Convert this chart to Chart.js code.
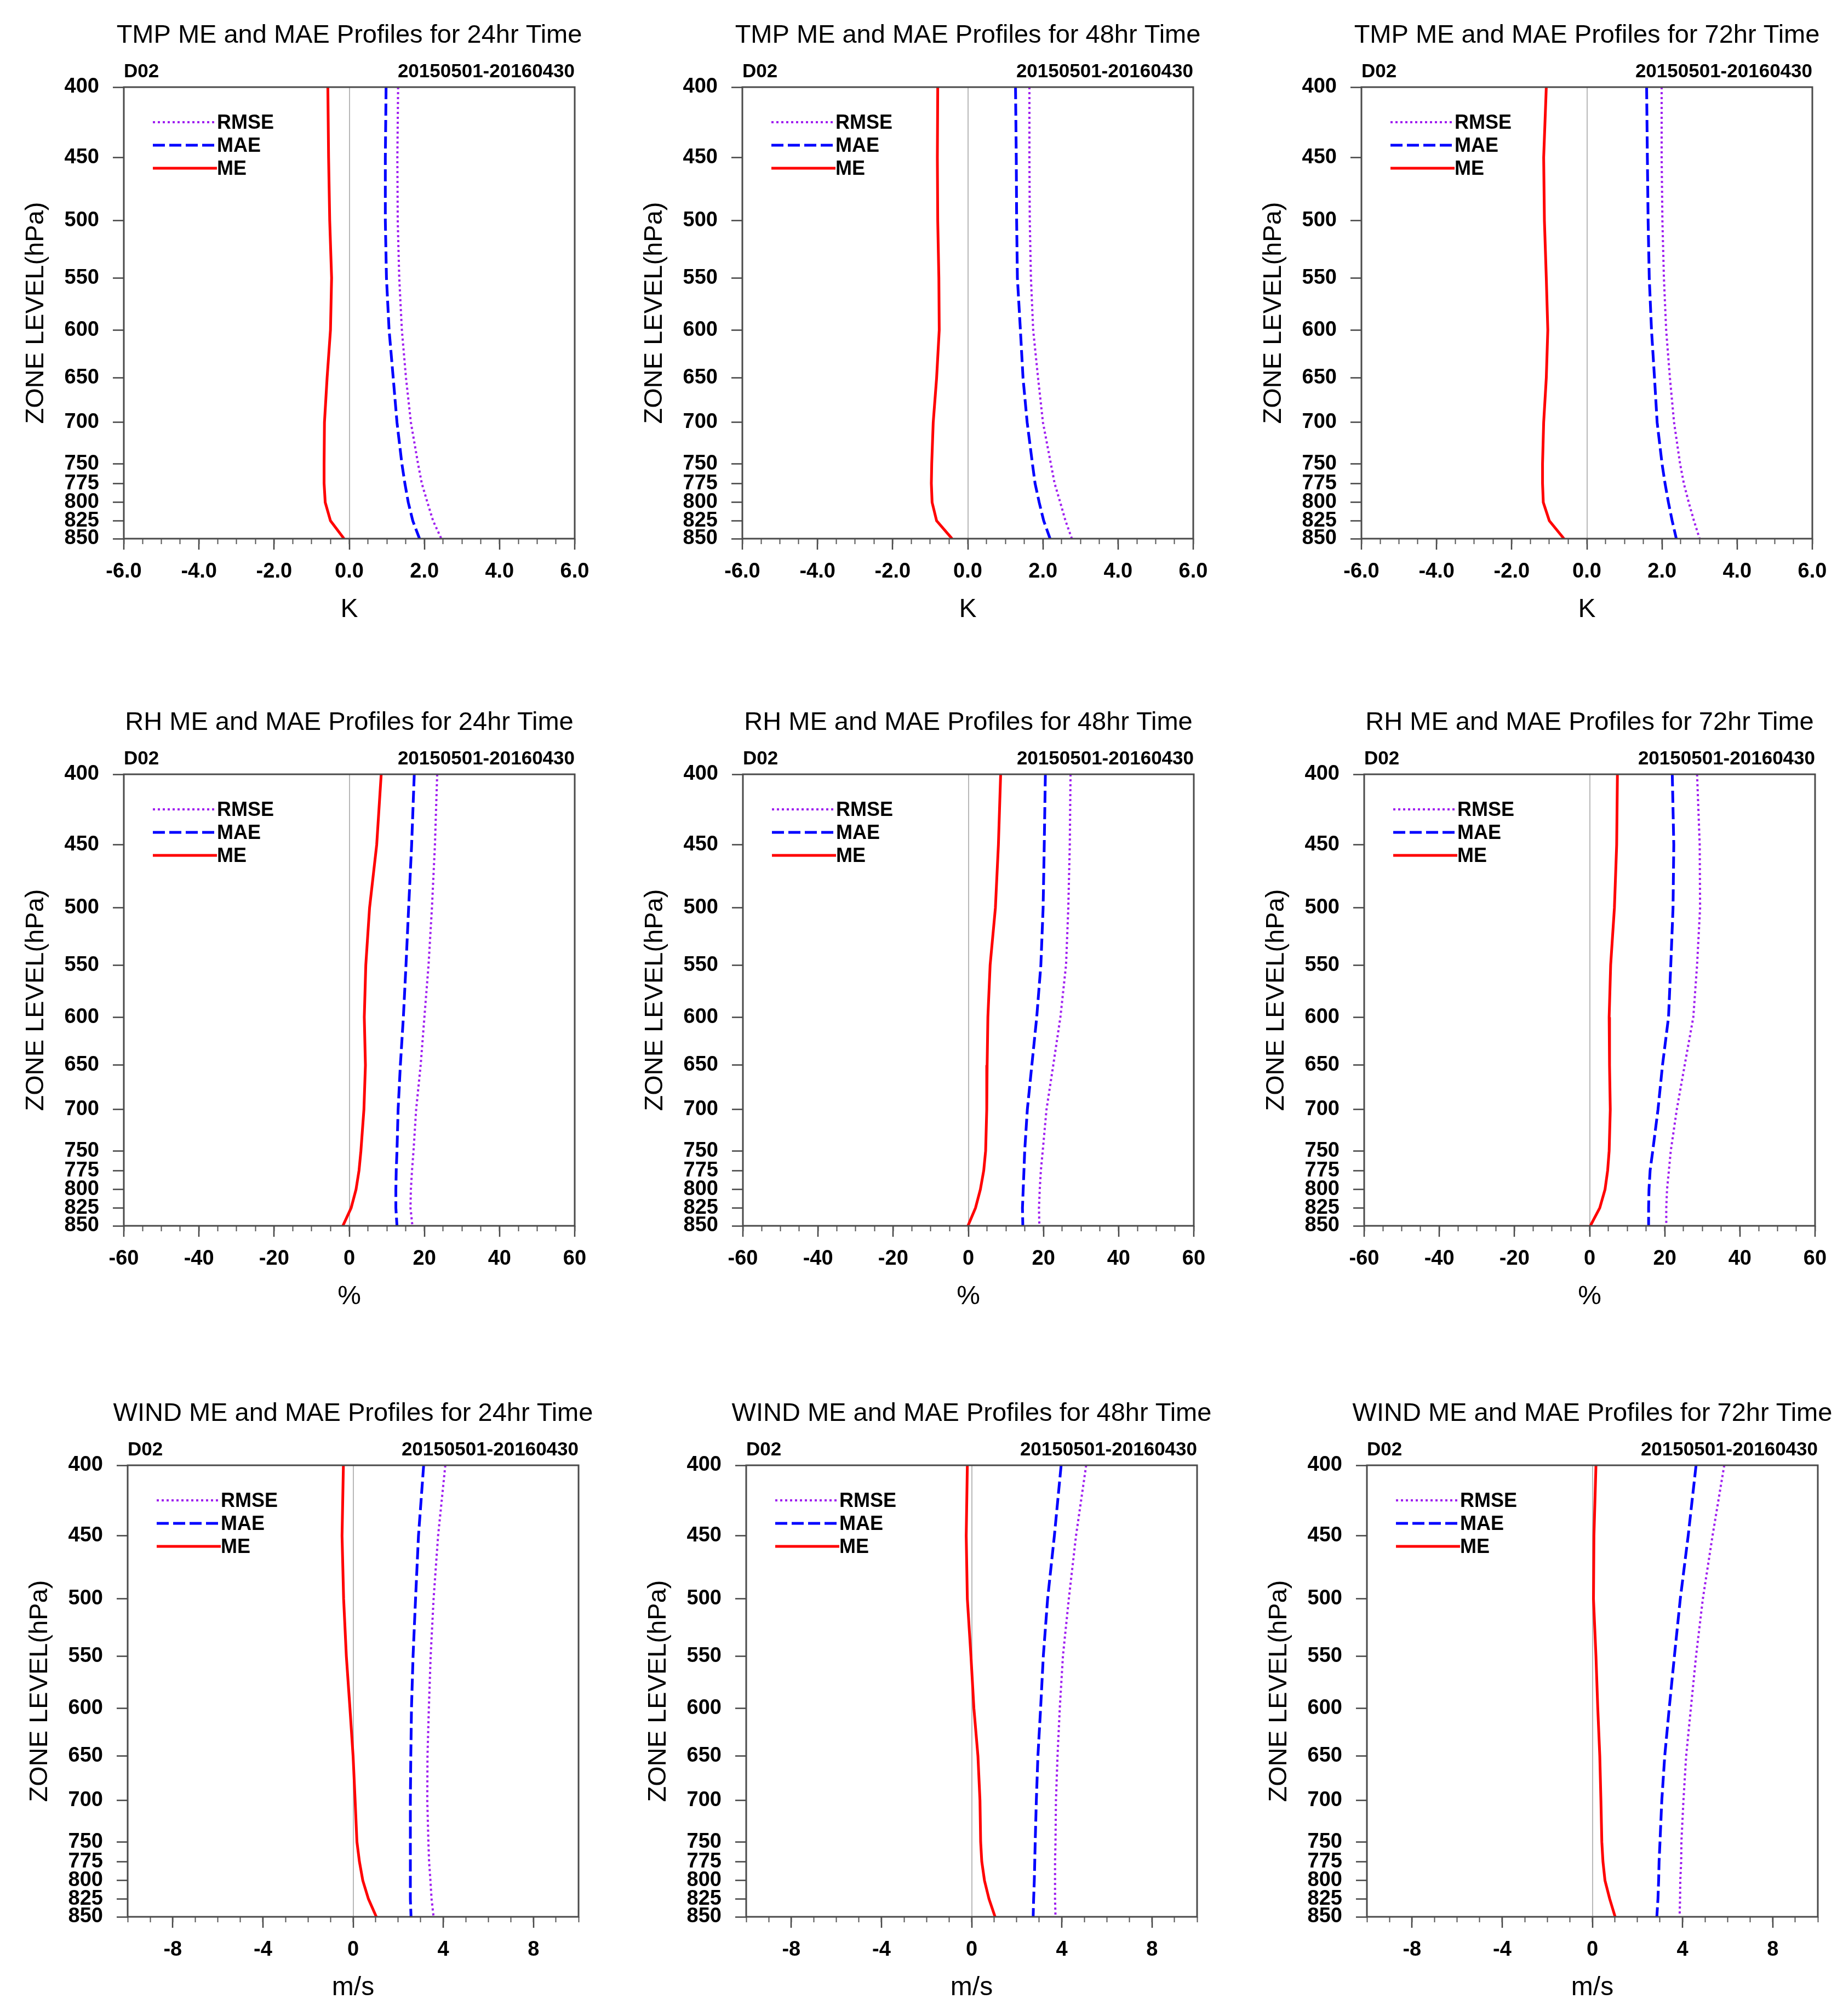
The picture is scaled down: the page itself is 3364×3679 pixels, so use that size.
<!DOCTYPE html>
<html>
<head>
<meta charset="utf-8">
<title>ME and MAE Profiles</title>
<script src="https://cdn.jsdelivr.net/npm/chart.js@4.4.1/dist/chart.umd.min.js"></script>
<style>
  html, body { margin: 0; padding: 0; background: #fff; overflow: hidden; }
  body { width: 3364px; height: 3679px; position: relative; }
  canvas { position: absolute; }
</style>
</head>
<body>
<script>
// Pressure levels (hPa), also used as y tick values
const levels = [400, 450, 500, 550, 600, 650, 700, 750, 775, 800, 825, 850];

// x tick labels per variable
const tmpTicks = [-6, -4, -2, 0, 2, 4, 6];
const rhTicks = [-60, -40, -20, 0, 20, 40, 60];
const windTicks = [-8, -4, 0, 4, 8];

// TMP (K)
const tmpMe24 = [-0.57, -0.55, -0.52, -0.47, -0.50, -0.59, -0.66, -0.67, -0.67, -0.64, -0.50, -0.14];
const tmpMae24 = [0.98, 0.96, 0.96, 0.99, 1.06, 1.17, 1.27, 1.40, 1.48, 1.57, 1.69, 1.87];
const tmpRmse24 = [1.30, 1.28, 1.29, 1.33, 1.40, 1.51, 1.64, 1.83, 1.93, 2.08, 2.23, 2.45];

const tmpMe48 = [-0.80, -0.81, -0.80, -0.77, -0.76, -0.83, -0.92, -0.96, -0.97, -0.95, -0.83, -0.42];
const tmpMae48 = [1.27, 1.29, 1.30, 1.32, 1.40, 1.47, 1.58, 1.72, 1.79, 1.90, 2.02, 2.19];
const tmpRmse48 = [1.64, 1.64, 1.65, 1.68, 1.74, 1.87, 2.00, 2.21, 2.31, 2.46, 2.60, 2.77];

const tmpMe72 = [-1.08, -1.15, -1.13, -1.08, -1.04, -1.08, -1.15, -1.18, -1.18, -1.16, -1.00, -0.61];
const tmpMae72 = [1.59, 1.61, 1.63, 1.66, 1.72, 1.80, 1.87, 2.00, 2.08, 2.17, 2.27, 2.38];
const tmpRmse72 = [1.99, 1.99, 2.01, 2.05, 2.11, 2.21, 2.32, 2.48, 2.58, 2.71, 2.85, 3.00];

// RH (%)
const rhMe24 = [8.5, 7.3, 5.4, 4.4, 4.0, 4.3, 3.9, 3.1, 2.6, 1.8, 0.5, -1.7];
const rhMae24 = [17.3, 16.6, 15.8, 15.1, 14.4, 13.6, 13.0, 12.7, 12.5, 12.4, 12.4, 12.7];
const rhRmse24 = [23.4, 22.8, 22.0, 21.1, 20.0, 19.0, 17.8, 17.1, 16.7, 16.4, 16.3, 16.8];

const rhMe48 = [8.6, 8.0, 7.2, 5.8, 5.2, 5.0, 4.9, 4.6, 4.1, 3.2, 1.9, -0.1];
const rhMae48 = [20.5, 20.2, 19.9, 19.3, 18.2, 16.9, 15.7, 15.0, 14.8, 14.6, 14.4, 14.5];
const rhRmse48 = [27.2, 27.0, 26.6, 26.0, 24.5, 22.6, 20.8, 19.8, 19.3, 19.0, 18.8, 18.9];

const rhMe72 = [7.4, 7.2, 6.6, 5.6, 5.2, 5.3, 5.5, 5.2, 4.8, 4.1, 2.7, 0.2];
const rhMae72 = [22.0, 22.4, 22.2, 21.6, 21.0, 19.4, 18.2, 16.8, 16.1, 15.8, 15.7, 15.7];
const rhRmse72 = [28.6, 29.3, 29.4, 28.6, 27.6, 25.3, 23.2, 21.6, 21.1, 20.6, 20.4, 20.4];

// WIND (m/s)
const windMe24 = [-0.43, -0.49, -0.42, -0.30, -0.14, 0.00, 0.09, 0.17, 0.28, 0.43, 0.68, 1.03];
const windMae24 = [3.13, 2.90, 2.77, 2.66, 2.59, 2.56, 2.54, 2.54, 2.54, 2.54, 2.54, 2.57];
const windRmse24 = [4.09, 3.77, 3.57, 3.44, 3.36, 3.30, 3.29, 3.34, 3.37, 3.43, 3.48, 3.57];

const windMe48 = [-0.19, -0.24, -0.19, -0.03, 0.10, 0.28, 0.37, 0.40, 0.45, 0.57, 0.77, 1.04];
const windMae48 = [3.97, 3.67, 3.37, 3.18, 3.06, 2.94, 2.87, 2.82, 2.80, 2.78, 2.75, 2.73];
const windRmse48 = [5.08, 4.63, 4.31, 4.05, 3.91, 3.81, 3.74, 3.72, 3.70, 3.70, 3.70, 3.72];

const windMe72 = [0.16, 0.07, 0.05, 0.16, 0.24, 0.33, 0.38, 0.42, 0.47, 0.56, 0.77, 1.01];
const windMae72 = [4.60, 4.25, 3.90, 3.64, 3.41, 3.21, 3.08, 3.00, 2.96, 2.94, 2.91, 2.86];
const windRmse72 = [5.85, 5.33, 4.90, 4.60, 4.37, 4.16, 4.04, 3.95, 3.94, 3.90, 3.89, 3.87];

const FONT = '"Liberation Sans", Arial, Helvetica, sans-serif';

// canvas / plot geometry (px)
const CW = 1095, CH = 1160;
const AXIS_W = 226, TOP_PAD = 157, PLOT_W = 823, PLOT_H = 824, XAXIS_H = 160;

// Header texts (title, D02, date range) centred on the plot area
const headerPlugin = {
    id: 'header',
    afterDraw(chart, args, opts) {
        const { ctx, chartArea: a } = chart;
        ctx.save();
        ctx.fillStyle = '#000';
        ctx.textBaseline = 'alphabetic';
        ctx.font = `47px ${FONT}`;
        ctx.textAlign = 'center';
        ctx.fillText(opts.title, (a.left + a.right) / 2, a.top - 81);
        ctx.font = `bold 35px ${FONT}`;
        ctx.textAlign = 'left';
        ctx.fillText(opts.left, a.left, a.top - 18);
        ctx.textAlign = 'right';
        ctx.fillText(opts.right, a.right, a.top - 18);
        ctx.restore();
    }
};

// Plot frame
const framePlugin = {
    id: 'frame',
    afterDatasetsDraw(chart) {
        const { ctx, chartArea: a } = chart;
        ctx.save();
        ctx.strokeStyle = '#4a4a4a';
        ctx.lineWidth = 3;
        ctx.strokeRect(a.left, a.top, a.right - a.left, a.bottom - a.top);
        ctx.restore();
    }
};

// NCL-style legend inside the plot: line then label
const profileLegend = {
    id: 'profileLegend',
    afterDatasetsDraw(chart) {
        const { ctx, chartArea: a } = chart;
        ctx.save();
        ctx.font = `bold 36px ${FONT}`;
        ctx.textBaseline = 'middle';
        ctx.textAlign = 'left';
        chart.data.datasets.forEach((ds, i) => {
            const y = a.top + 64 + i * 42;
            ctx.strokeStyle = ds.borderColor;
            ctx.lineWidth = ds.borderWidth;
            ctx.setLineDash(ds.borderDash || []);
            ctx.beginPath();
            ctx.moveTo(a.left + 53, y);
            ctx.lineTo(a.left + 170, y);
            ctx.stroke();
            ctx.setLineDash([]);
            ctx.fillStyle = '#000';
            ctx.fillText(ds.label, a.left + 170, y + 2);
        });
        ctx.restore();
    }
};

function pts(values) {
    return values.map((v, i) => ({ x: v, y: levels[i] }));
}

function makeChart(p) {
    const canvas = document.createElement('canvas');
    canvas.width = CW;
    canvas.height = CH;
    canvas.style.left = (p.left - AXIS_W) + 'px';
    canvas.style.top = (p.top - TOP_PAD) + 'px';
    document.body.appendChild(canvas);

    const minorTicks = [];
    for (let v = p.xMin; v <= p.xMax + 1e-9; v += p.minorStep) minorTicks.push(Math.round(v * 1000) / 1000);

    const tickFont = { family: FONT, size: 38, weight: 'bold' };

    new Chart(canvas, {
        type: 'line',
        data: {
            datasets: [
                { label: 'RMSE', data: pts(p.rmse), borderColor: '#a020f0', borderWidth: 4, borderDash: [4, 5] },
                { label: 'MAE', data: pts(p.mae), borderColor: '#0000ff', borderWidth: 5, borderDash: [22, 8] },
                { label: 'ME', data: pts(p.me), borderColor: '#ff0000', borderWidth: 5 }
            ]
        },
        options: {
            responsive: false,
            animation: false,
            layout: {
                padding: {
                    top: TOP_PAD,
                    left: 0,
                    right: CW - AXIS_W - PLOT_W,
                    bottom: CH - TOP_PAD - PLOT_H - XAXIS_H
                }
            },
            elements: {
                point: { radius: 0 },
                line: { tension: 0, borderCapStyle: 'butt' }
            },
            plugins: {
                legend: { display: false },
                tooltip: { enabled: false },
                header: { title: p.title, left: 'D02', right: '20150501-20160430' }
            },
            scales: {
                x: {
                    type: 'linear',
                    position: 'bottom',
                    min: p.xMin,
                    max: p.xMax,
                    afterBuildTicks: s => { s.ticks = p.ticks.map(v => ({ value: v })); },
                    afterFit: s => { s.height = XAXIS_H; },
                    ticks: {
                        autoSkip: false,
                        maxRotation: 0,
                        padding: 18,
                        color: '#000',
                        font: tickFont,
                        callback: v => p.fmt(v)
                    },
                    grid: {
                        drawOnChartArea: true,
                        color: c => (c.tick && c.tick.value === 0 ? '#b8b8b8' : 'rgba(0,0,0,0)'),
                        lineWidth: 2,
                        tickColor: '#444',
                        tickWidth: 2.5,
                        tickLength: 20
                    },
                    border: { display: false },
                    title: {
                        display: true,
                        text: p.unit,
                        color: '#000',
                        font: { family: FONT, size: 48 },
                        padding: { top: 0, bottom: 1 }
                    }
                },
                xMinor: {
                    type: 'linear',
                    axis: 'x',
                    position: { y: 850 },
                    min: p.xMin,
                    max: p.xMax,
                    afterBuildTicks: s => { s.ticks = minorTicks.map(v => ({ value: v })); },
                    ticks: { display: false },
                    grid: {
                        drawOnChartArea: false,
                        tickColor: '#555',
                        tickWidth: 2,
                        tickLength: 10
                    },
                    border: { display: false }
                },
                y: {
                    type: 'logarithmic',
                    position: 'left',
                    reverse: true,
                    min: 400,
                    max: 850,
                    afterBuildTicks: s => { s.ticks = levels.map(v => ({ value: v })); },
                    afterFit: s => { s.width = AXIS_W; },
                    ticks: {
                        autoSkip: false,
                        padding: 25,
                        color: '#000',
                        font: tickFont,
                        callback: v => String(v)
                    },
                    grid: {
                        drawOnChartArea: false,
                        tickColor: '#444',
                        tickWidth: 2.5,
                        tickLength: 20
                    },
                    border: { display: false },
                    title: {
                        display: true,
                        text: 'ZONE LEVEL(hPa)',
                        color: '#000',
                        font: { family: FONT, size: 47 },
                        padding: { top: 38, bottom: 0 }
                    }
                }
            }
        },
        plugins: [framePlugin, profileLegend, headerPlugin]
    });
}

const fmtTmp = v => Number(v).toFixed(1);
const fmtInt = v => String(v);

const panels = [
    { title: 'TMP ME and MAE Profiles for 24hr Time', left: 226, top: 159, me: tmpMe24, mae: tmpMae24, rmse: tmpRmse24, xMin: -6, xMax: 6, minorStep: 0.5, ticks: tmpTicks, fmt: fmtTmp, unit: 'K' },
    { title: 'TMP ME and MAE Profiles for 48hr Time', left: 1355, top: 159, me: tmpMe48, mae: tmpMae48, rmse: tmpRmse48, xMin: -6, xMax: 6, minorStep: 0.5, ticks: tmpTicks, fmt: fmtTmp, unit: 'K' },
    { title: 'TMP ME and MAE Profiles for 72hr Time', left: 2485, top: 159, me: tmpMe72, mae: tmpMae72, rmse: tmpRmse72, xMin: -6, xMax: 6, minorStep: 0.5, ticks: tmpTicks, fmt: fmtTmp, unit: 'K' },
    { title: 'RH ME and MAE Profiles for 24hr Time', left: 226, top: 1413, me: rhMe24, mae: rhMae24, rmse: rhRmse24, xMin: -60, xMax: 60, minorStep: 5, ticks: rhTicks, fmt: fmtInt, unit: '%' },
    { title: 'RH ME and MAE Profiles for 48hr Time', left: 1356, top: 1413, me: rhMe48, mae: rhMae48, rmse: rhRmse48, xMin: -60, xMax: 60, minorStep: 5, ticks: rhTicks, fmt: fmtInt, unit: '%' },
    { title: 'RH ME and MAE Profiles for 72hr Time', left: 2490, top: 1413, me: rhMe72, mae: rhMae72, rmse: rhRmse72, xMin: -60, xMax: 60, minorStep: 5, ticks: rhTicks, fmt: fmtInt, unit: '%' },
    { title: 'WIND ME and MAE Profiles for 24hr Time', left: 233, top: 2674, me: windMe24, mae: windMae24, rmse: windRmse24, xMin: -10, xMax: 10, minorStep: 1, ticks: windTicks, fmt: fmtInt, unit: 'm/s' },
    { title: 'WIND ME and MAE Profiles for 48hr Time', left: 1362, top: 2674, me: windMe48, mae: windMae48, rmse: windRmse48, xMin: -10, xMax: 10, minorStep: 1, ticks: windTicks, fmt: fmtInt, unit: 'm/s' },
    { title: 'WIND ME and MAE Profiles for 72hr Time', left: 2495, top: 2674, me: windMe72, mae: windMae72, rmse: windRmse72, xMin: -10, xMax: 10, minorStep: 1, ticks: windTicks, fmt: fmtInt, unit: 'm/s' }
];

panels.forEach(makeChart);
</script>
</body>
</html>
